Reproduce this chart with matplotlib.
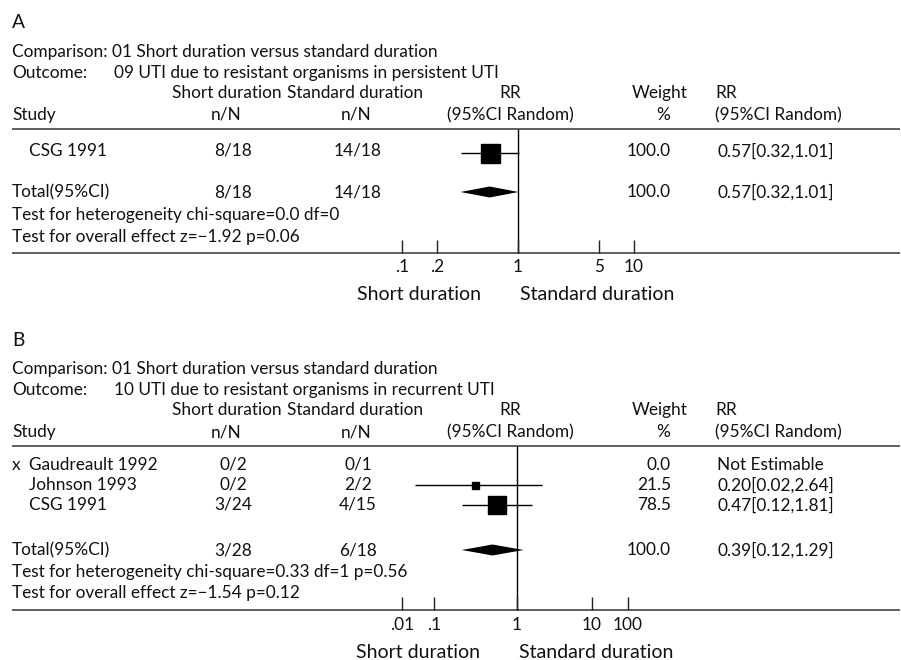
import numpy as np
import matplotlib.pyplot as plt

plt.rcParams['font.family'] = ['Lato', 'DejaVu Sans']
FS = 12.4

# ---- panel A data ----
studies_a = ['CSG 1991']
short_a = ['8/18']
std_a = ['14/18']
rr_a = [0.57]
lo_a = [0.32]
hi_a = [1.01]
weight_a = [100.0]
total_a = ['8/18', '14/18']
total_rr_a = [0.57, 0.32, 1.01]
total_w_a = 100.0
het_a = 'Test for heterogeneity chi-square=0.0 df=0'
eff_a = 'Test for overall effect z=\u22121.92 p=0.06'
ticks_a = [0.1, 0.2, 1, 5, 10]
ticklabels_a = ['.1', '.2', '1', '5', '10']

# ---- panel B data ----
studies_b = ['Gaudreault 1992', 'Johnson 1993', 'CSG 1991']
excluded_b = [True, False, False]
short_b = ['0/2', '0/2', '3/24']
std_b = ['0/1', '2/2', '4/15']
rr_b = [np.nan, 0.20, 0.47]
lo_b = [np.nan, 0.02, 0.12]
hi_b = [np.nan, 2.64, 1.81]
weight_b = [0.0, 21.5, 78.5]
total_b = ['3/28', '6/18']
total_rr_b = [0.39, 0.12, 1.29]
total_w_b = 100.0
het_b = 'Test for heterogeneity chi-square=0.33 df=1 p=0.56'
eff_b = 'Test for overall effect z=\u22121.54 p=0.12'
# the printed ticks in B do not sit on their true log positions
ticks_b = [0.012, 0.041, 1, 17.8, 70.8]
ticklabels_b = ['.01', '.1', '1', '10', '100']

fig = plt.figure(figsize=(9.01, 6.60), dpi=100)
ax = fig.add_axes([0, 0, 1, 1])
ax.set_xlim(0, 901)
ax.set_ylim(660, 0)
ax.axis('off')


def txt(x, y, s, ha='left', size=FS):
    ax.text(x, y, s, ha=ha, va='center', fontsize=size, color='#111')


def rr_text(r, l, h):
    if np.isnan(r):
        return 'Not Estimable'
    return '%.2f[%.2f,%.2f]' % (r, l, h)


def panel(y, letter, outcome, studies, excl, sh, st, rr, lo, hi, w, sq,
          tot, tot_rr, tot_w, het, eff, ticks, ticklabels, one_px, ppd):
    txt(12, y['letter'], letter, size=FS + 1.5)
    txt(12, y['comp'], 'Comparison: 01 Short duration versus standard duration')
    txt(12, y['outc'], 'Outcome:')
    txt(114, y['outc'], outcome)
    txt(172, y['h1'], 'Short duration')
    txt(287, y['h1'], 'Standard duration')
    txt(510, y['h1'], 'RR', ha='center')
    txt(688, y['h1'], 'Weight', ha='right')
    txt(715, y['h1'], 'RR')
    txt(12, y['h2'], 'Study')
    txt(226, y['h2'], 'n/N', ha='center')
    txt(356, y['h2'], 'n/N', ha='center')
    txt(510, y['h2'], '(95%CI Random)', ha='center')
    txt(663, y['h2'], '%', ha='center')
    txt(715, y['h2'], '(95%CI Random)')
    ax.hlines([y['line'], y['axis']], 12, 900, color='#333', lw=1.1)

    for i, name in enumerate(studies):
        yy = y['rows'][i]
        if excl[i]:
            txt(12, yy, 'x')
        txt(29, yy, name)
        txt(233, yy, sh[i], ha='center')
        txt(358, yy, st[i], ha='center')
        txt(671, yy, '%.1f' % w[i], ha='right')
        txt(717, yy, rr_text(rr[i], lo[i], hi[i]))
    txt(12, y['total'], 'Total(95%CI)')
    txt(233, y['total'], tot[0], ha='center')
    txt(358, y['total'], tot[1], ha='center')
    txt(671, y['total'], '%.1f' % tot_w, ha='right')
    txt(717, y['total'], rr_text(*tot_rr))
    txt(12, y['het'], het)
    txt(12, y['eff'], eff)
    txt(one_px - 37, y['bottom'], 'Short duration', ha='right', size=FS * 1.13)
    txt(one_px + 2, y['bottom'], 'Standard duration', size=FS * 1.13)

    # forest plot on a log axis
    fx = fig.add_axes([12 / 901, 0, 888 / 901, 1])
    fx.set_xscale('log')
    fx.set_xlim(10 ** ((12 - one_px) / ppd), 10 ** ((900 - one_px) / ppd))
    fx.set_ylim(660, 0)
    fx.axis('off')
    fx.patch.set_alpha(0)
    fx.vlines(1, y['line'], y['axis'], color='black', lw=1)
    for i in range(len(studies)):
        if np.isnan(rr[i]):
            continue
        yy = y['rows'][i] + y['mark_dy']
        fx.hlines(yy, lo[i], hi[i], color='black', lw=1)
        fx.plot(rr[i], yy, marker='s', ms=sq[i] * 0.72, color='black', ls='none')
    r, l, h = tot_rr
    yt = y['total']
    fx.fill([l, r, h, r], [yt, yt - 5.5, yt, yt + 5.5], color='black', lw=0)
    fx.vlines(ticks, y['tick_top'], y['axis'], color='#222', lw=1)
    for t, lab in zip(ticks, ticklabels):
        fx.text(t, y['ticklab'], lab, ha='center', va='center', fontsize=FS, color='#111')


ya = dict(letter=23, comp=52, outc=73, h1=93, h2=115, line=129, rows=[151],
          mark_dy=2, total=192, het=215, eff=237, tick_top=240, axis=253,
          ticklab=267, bottom=295)
yb = dict(letter=340, comp=369, outc=390, h1=410, h2=432, line=446,
          rows=[465, 485, 505], mark_dy=0, total=550, het=572, eff=593,
          tick_top=597, axis=610, ticklab=625, bottom=652)

panel(ya, 'A', '09 UTI due to resistant organisms in persistent UTI',
      studies_a, [False], short_a, std_a, rr_a, lo_a, hi_a, weight_a, [19],
      total_a, total_rr_a, total_w_a, het_a, eff_a, ticks_a, ticklabels_a,
      518, 116)
panel(yb, 'B', '10 UTI due to resistant organisms in recurrent UTI',
      studies_b, excluded_b, short_b, std_b, rr_b, lo_b, hi_b, weight_b, [0, 7, 18],
      total_b, total_rr_b, total_w_b, het_b, eff_b, ticks_b, ticklabels_b,
      517, 60)

fig.savefig('out.png', dpi=100)
